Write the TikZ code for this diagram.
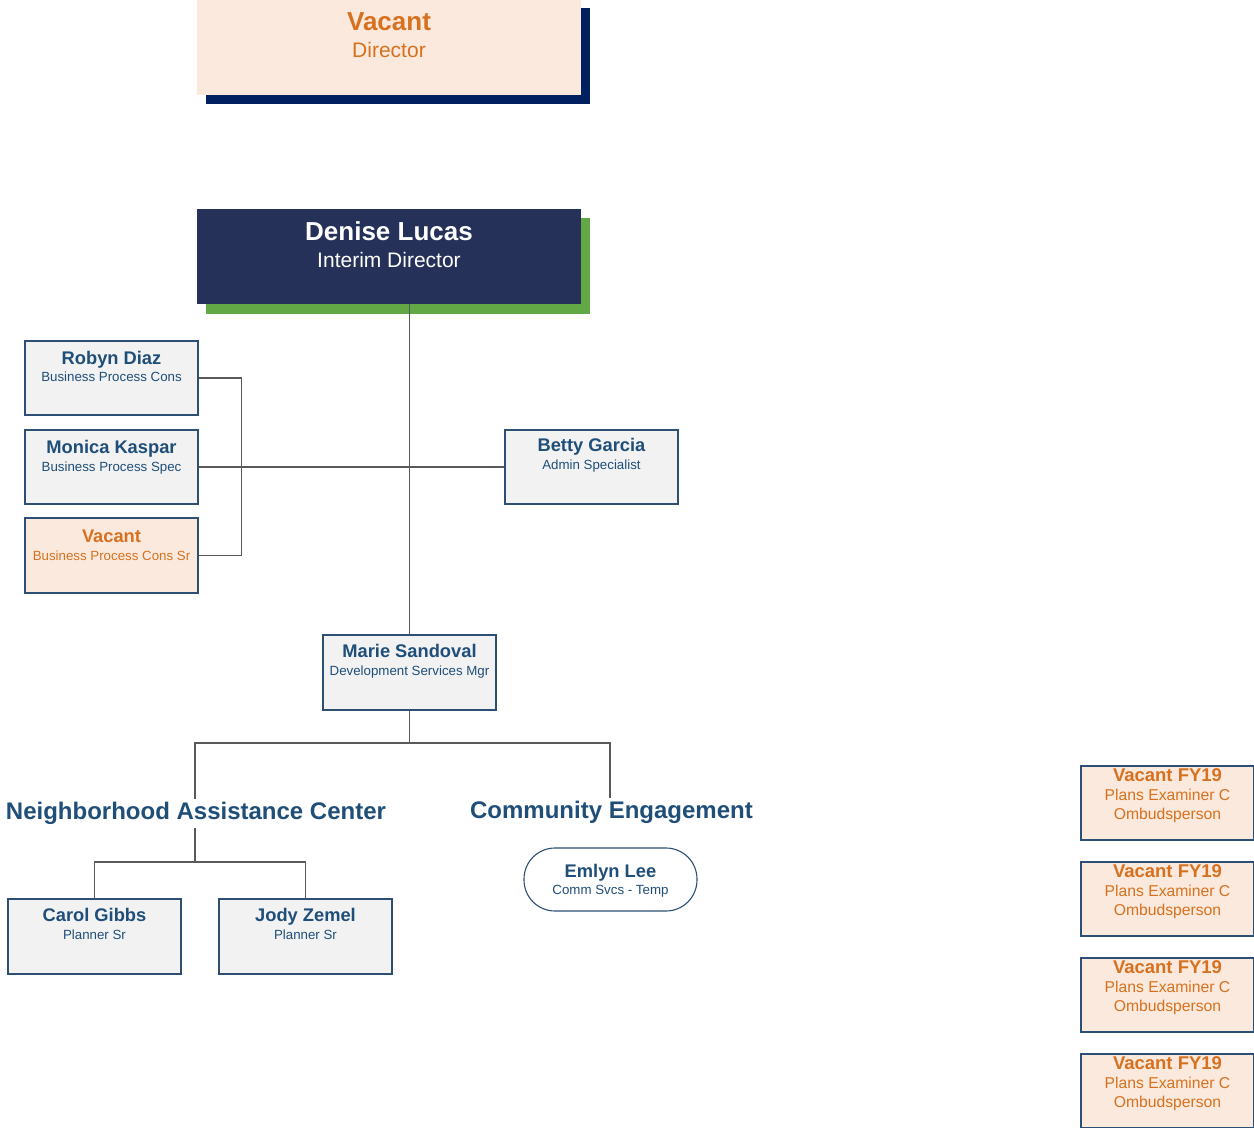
\documentclass[tikz,border=0pt]{standalone}
\usepackage{fontspec}
\setmainfont{Liberation Sans}
\definecolor{navyfill}{HTML}{263159}
\definecolor{navyshadow}{HTML}{002060}
\definecolor{greenshadow}{HTML}{62A844}
\definecolor{peach}{HTML}{FAE9DC}
\definecolor{orangetxt}{HTML}{D7711F}
\definecolor{bluetxt}{HTML}{1F4E79}
\definecolor{boxgray}{HTML}{F2F2F2}
\definecolor{boxline}{HTML}{2D4F74}
\definecolor{conn}{HTML}{595959}
\tikzset{
  pbox/.style={draw=boxline, line width=1.1pt, fill=boxgray, minimum width=173pt, minimum height=74pt, inner sep=0pt},
  vbox/.style={pbox, fill=peach},
  txt/.style={anchor=base, inner sep=0pt},
  nm/.style={txt, text=bluetxt, font=\fontsize{18.3}{20}\selectfont\bfseries},
  ttl/.style={txt, text=bluetxt, font=\fontsize{13.3}{15}\selectfont},
  vnm/.style={nm, text=orangetxt},
  vttl/.style={ttl, text=orangetxt},
  head/.style={anchor=base, inner sep=3pt, text=bluetxt, font=\fontsize{24}{26}\selectfont\bfseries},
  cline/.style={draw=conn, line width=1.4pt},
}
\begin{document}
\begin{tikzpicture}[x=1pt, y=-1pt]
\useasboundingbox (0,0) rectangle (1254,1128);
% top vacant director
\fill[navyshadow] (206,8) rectangle (590,104);
\node[fill=peach, minimum width=384pt, minimum height=95pt, inner sep=0pt] (vdir) at (389,47.5) {};
\node[txt, text=orangetxt, font=\fontsize{26}{28}\selectfont\bfseries] (vdirn) at (389,30.4) {Vacant};
\node[txt, text=orangetxt, font=\fontsize{21}{23}\selectfont] (vdirt) at (389,57.6) {Director};
% Denise Lucas
\fill[greenshadow] (206,218) rectangle (590,314);
\node[fill=navyfill, minimum width=384pt, minimum height=95pt, inner sep=0pt] (den) at (389,256.5) {};
\node[txt, text=white, font=\fontsize{26}{28}\selectfont\bfseries] (denn) at (389,240.5) {Denise Lucas};
\node[txt, text=white, font=\fontsize{21}{23}\selectfont] (dent) at (389,267.6) {Interim Director};
% staff boxes
\node[pbox] (rob) at (111.5,378) {};
\node[nm] (robn) at (111.5,364.5) {Robyn Diaz};
\node[ttl] (robt) at (111.5,381.7) {Business Process Cons};
\node[pbox] (mon) at (111.5,467) {};
\node[nm] (monn) at (111.5,453.5) {Monica Kaspar};
\node[ttl] (mont) at (111.5,471.7) {Business Process Spec};
\node[vbox, minimum height=75pt] (vbp) at (111.5,555.5) {};
\node[vnm] (vbpn) at (111.5,542.5) {Vacant};
\node[vttl] (vbpt) at (111.5,560.7) {Business Process Cons Sr};
\node[pbox] (bet) at (591.5,467) {};
\node[nm] (betn) at (591.5,451.5) {Betty Garcia};
\node[ttl] (bett) at (591.5,469.7) {Admin Specialist};
\node[pbox, minimum height=75pt] (mar) at (409.5,672.5) {};
\node[nm] (marn) at (409.5,657.5) {Marie Sandoval};
\node[ttl] (mart) at (409.5,675.7) {Development Services Mgr};
% headings
\node[head] (nac) at (196,819.6) {Neighborhood Assistance Center};
\node[head] (ce) at (611.5,818.6) {Community Engagement};
% planners
\node[pbox, minimum height=75pt] (car) at (94.5,936.5) {};
\node[nm] (carn) at (94.5,921.5) {Carol Gibbs};
\node[ttl] (cart) at (94.5,939.7) {Planner Sr};
\node[pbox, minimum height=75pt] (jod) at (305.5,936.5) {};
\node[nm] (jodn) at (305.5,921.5) {Jody Zemel};
\node[ttl] (jodt) at (305.5,939.7) {Planner Sr};
% Emlyn
\node[pbox, fill=white, minimum height=63pt, rounded corners=31pt] (eml) at (610.5,879.5) {};
\node[nm] (emln) at (610.5,877.6) {Emlyn Lee};
\node[ttl] (emlt) at (610.5,894.8) {Comm Svcs - Temp};
% Vacant FY19 boxes
\foreach \i/\cy in {1/803,2/899,3/995,4/1091} {
  \node[vbox] (fy\i) at (1167.5,\cy) {};
  \node[txt, text=orangetxt, font=\fontsize{18.5}{20}\selectfont\bfseries] (fy\i n) at (1167.5,\cy-21.3) {Vacant FY19};
  \node[txt, text=orangetxt, font=\fontsize{15.7}{17}\selectfont] (fy\i t) at (1167.5,\cy-2.4) {Plans Examiner C};
  \node[txt, text=orangetxt, font=\fontsize{15.7}{17}\selectfont] (fy\i u) at (1167.5,\cy+16.6) {Ombudsperson};
}
% connectors
\draw[cline] ([xshift=20.5pt]den.south) -- (mar.north);
\draw[cline] (rob.east) -- ++(43,0) |- (vbp.east);
\draw[cline] (mon.east) -- (bet.west);
\draw[cline] (mar.south) -- (409.5,743) coordinate (j1);
\draw[cline] (j1) -| ([xshift=-1pt]nac.north);
\draw[cline] (j1) -| ([xshift=-1.5pt]ce.north);
\draw[cline] ([xshift=-1pt]nac.south) -- (195,862) coordinate (j2);
\draw[cline] (car.north) |- (j2) -| (jod.north);
\end{tikzpicture}
\end{document}
